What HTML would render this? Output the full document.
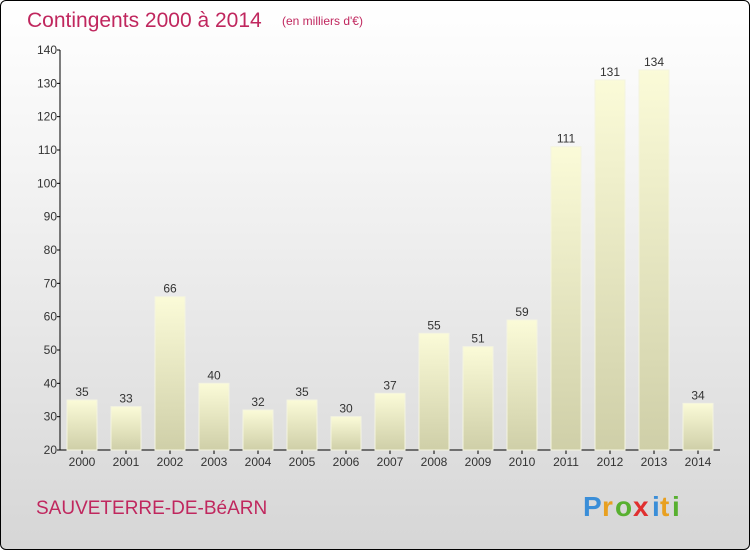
<!DOCTYPE html>
<html><head><meta charset="utf-8"><style>
body{margin:0;width:750px;height:550px;overflow:hidden;font-family:"Liberation Sans",sans-serif}
#wrap{position:absolute;left:0;top:0;width:748px;height:548px;border:1px solid #000;border-radius:6px;background:linear-gradient(#ffffff,#f4f4f4 30%,#d6d6d6);overflow:hidden}
</style></head><body>
<div id="wrap">
<svg id="svg" width="750" height="550" style="position:absolute;left:-1px;top:-1px">
<defs><linearGradient id="bg" x1="0" y1="0" x2="0" y2="1"><stop offset="0" stop-color="#fbfbd8"/><stop offset="1" stop-color="#cfcfa8"/></linearGradient></defs>
<text x="27" y="27" font-size="21" fill="#c0275e">Contingents 2000 à 2014</text>
<text x="282" y="25" font-size="12" fill="#c0275e">(en milliers d'€)</text>
<text x="36" y="514" font-size="19" fill="#c0275e">SAUVETERRE-DE-BéARN</text>
<g font-size="28" font-weight="bold">
<text x="583" y="516" fill="#3a8ed8">P</text><text x="602" y="516" fill="#e8a020">r</text><text x="615" y="516" fill="#58b030">o</text><text x="633" y="516" fill="#e03030">x</text><text x="652" y="516" fill="#3a8ed8">i</text><text x="660" y="516" fill="#e8a020">t</text><text x="672" y="516" fill="#58b030">i</text>
</g>
<g id="axes"></g><g id="bars"></g>
</svg></div>
<script>
const categories=["2000","2001","2002","2003","2004","2005","2006","2007","2008","2009","2010","2011","2012","2013","2014"];
const values=[35,33,66,40,32,35,30,37,55,51,59,111,131,134,34];
const yTicks=[20,30,40,50,60,70,80,90,100,110,120,130,140];
const NS="http://www.w3.org/2000/svg";
const y=v=>450-(v-20)*400/120;
const x=i=>82+44*i;
function mk(tag,attrs,parent,txt){const e=document.createElementNS(NS,tag);for(const k in attrs)e.setAttribute(k,attrs[k]);if(txt!==undefined)e.textContent=txt;parent.appendChild(e);return e;}
const ax=document.getElementById('axes'),bg=document.getElementById('bars');
let e=mk('line',{x1:60,y1:50,x2:60,y2:450,stroke:'#000'},ax);


e=mk('line',{x1:60,y1:450,x2:720,y2:450,stroke:'#000'},ax);


yTicks.forEach(t=>{
 mk('line',{x1:57,y1:y(t),x2:60,y2:y(t),stroke:'#000'},ax);
 e=mk('text',{x:57,y:y(t)+4,'font-size':12,fill:'#333','text-anchor':'end'},ax,t);
 
 
});
categories.forEach((c,i)=>{
 mk('line',{x1:x(i),y1:450,x2:x(i),y2:454,stroke:'#000'},ax);
 e=mk('text',{x:x(i),y:466,'font-size':12,fill:'#333','text-anchor':'middle'},ax,c);
 
 
 e=mk('rect',{x:x(i)-15,y:y(values[i]),width:30,height:450-y(values[i]),fill:'url(#bg)',stroke:'#f4f4e0','stroke-width':1},bg);
 
 
 e=mk('text',{x:x(i),y:y(values[i])-4,'font-size':12,fill:'#333','text-anchor':'middle'},bg,values[i]);
 
 
});
</script>
</body></html>
